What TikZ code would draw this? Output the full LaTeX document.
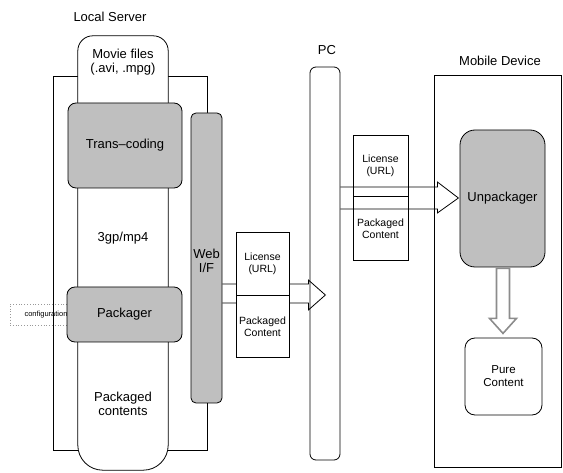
\documentclass[tikz,border=0pt]{standalone}
\usepackage{fontspec}
\setmainfont{Liberation Sans}
\usetikzlibrary{calc}
\newcommand{\bigtxt}{\fontsize{13}{14}\selectfont}
\newcommand{\midtxt}{\fontsize{11.5}{13}\selectfont}
\newcommand{\smalltxt}{\fontsize{10.5}{12}\selectfont}
\newcommand{\tinytxt}{\fontsize{7.5}{8}\selectfont}
\tikzset{
  box/.style={draw, line width=0.8pt, align=center, inner sep=0pt},
  greybox/.style={box, fill=black!25, rounded corners=8pt},
  whitebox/.style={box, fill=white},
  blockarrow/.style={draw, line width=0.8pt, line join=miter},
  hollowarrow/.style={draw=black!45, line width=1.6pt, fill=white},
  lbl/.style={font=\bigtxt}
}
\begin{document}
\begin{tikzpicture}[x=1pt,y=-1pt]
\useasboundingbox (0,0) rectangle (563,473);
% local server
\node[lbl] (srvlbl) at (110,17) {Local Server};
\draw[line width=0.8pt] (53,76) rectangle (207,450);
\node[minimum width=90pt, minimum height=434pt, inner sep=0pt] (col) at (123,253) {};
\draw[line width=0.8pt, fill=white] ($(col.north west)+(15,0)$) -- ($(col.north east)+(-15,0)$)
  arc[start angle=90, end angle=0, radius=15pt] -- ($(col.south east)+(0,-25)$)
  arc[start angle=0, end angle=-90, radius=25pt] -- ($(col.south west)+(25,0)$)
  arc[start angle=270, end angle=180, radius=25pt] -- ($(col.north west)+(0,15)$)
  arc[start angle=180, end angle=90, radius=15pt] -- cycle;
\node[font=\bigtxt, align=center] (movie) at (123,62) {Movie files\\(.avi, .mpg)};
\node[box, draw=black!40, dotted, minimum width=60pt, minimum height=21pt] (config) at (40,314.5) {};
\node[font=\tinytxt, anchor=west] (configtxt) at (21,314.5) {configuration};
\node[greybox, minimum width=114pt, minimum height=85pt, font=\bigtxt] (trans) at (125,145.5) {Trans--coding};
\node[font=\bigtxt] (fmt) at (123,238) {3gp/mp4};
\node[greybox, minimum width=115pt, minimum height=55pt, font=\bigtxt] (pack) at (124.5,314.5) {Packager};
\node[font=\bigtxt, align=center] (pkgd) at (123,404) {Packaged\\contents};
\node[greybox, rounded corners=5pt, minimum width=31pt, minimum height=290pt] (webif) at (206.5,258) {};
\node[font=\bigtxt, align=center] (webtxt) at (206.5,261) {Web\\I/F};
% to the PC
\coordinate (a1) at (webif.east |- 0,284);
\draw[blockarrow] (a1) -- ++(86,0) -- ++(0,-4) -- ++(17,15) -- ++(-17,15) -- ++(0,-7) -- ++(-86,0);
\node[whitebox, minimum width=53pt, minimum height=63pt, font=\smalltxt] (lic1) at (262.5,263.5) {License\\(URL)};
\node[whitebox, minimum width=53pt, minimum height=62pt, font=\smalltxt, anchor=north] (cnt1) at (lic1.south) {Packaged\\Content};
% PC
\node[lbl] (pclbl) at (327,50) {PC};
\node[box, rounded corners=6pt, minimum width=30pt, minimum height=393pt] (pc) at (325,263.5) {};
\node[whitebox, minimum width=55pt, minimum height=61pt, font=\smalltxt] (lic2) at (380.5,165.5) {License\\(URL)};
\node[whitebox, minimum width=55pt, minimum height=64pt, font=\smalltxt, anchor=north] (cnt2) at (lic2.south) {Packaged\\Content};
% mobile device
\node[lbl] (moblbl) at (500,61) {Mobile Device};
\draw[line width=0.8pt] (434,75) rectangle (561,467);
\coordinate (a2) at (pc.east |- 0,187);
\draw[blockarrow] (a2) -- ++(97,0) -- ++(0,-5) -- ++(21,16) -- ++(-21,15) -- ++(0,-4) -- ++(-97,0);
\node[greybox, rounded corners=15pt, minimum width=85pt, minimum height=137pt, font=\bigtxt] (unpack) at (502.5,198.5) {Unpackager};
\node[box, rounded corners=10pt, minimum width=77pt, minimum height=77pt, font=\midtxt] (pure) at (503.5,376.5) {Pure\\Content};
\coordinate (a3) at ($(unpack.south)+(-6,1)$);
\draw[hollowarrow] (a3) -- ++(0,50) -- ++(-7,0) -- ++(13.5,15) -- ++(13.5,-15) -- ++(-7,0) -- ++(0,-50) -- cycle;
\end{tikzpicture}
\end{document}
